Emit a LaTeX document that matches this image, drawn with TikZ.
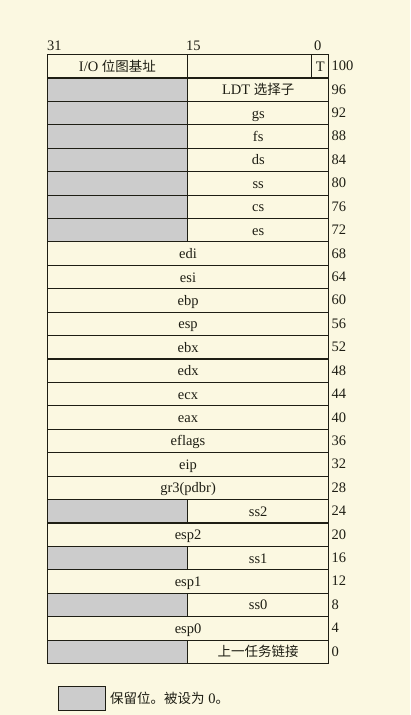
\documentclass[tikz,border=0pt]{standalone}
\usepackage{fontspec}
\setmainfont{Liberation Serif}
\newfontfamily\cjk{Noto Sans CJK SC}
\definecolor{paper}{HTML}{FBF8E1}
\definecolor{grayfill}{HTML}{CCCCCC}
\definecolor{ink}{HTML}{1E1E14}

\begin{document}
\begin{tikzpicture}[x=1pt, y=-1pt, font=\fontsize{14.5}{17}\selectfont, text=ink,
    cell/.style={rectangle, draw=ink, line width=1.1pt, inner sep=0, minimum height=23.42pt,
        text height=10pt, text depth=0pt, anchor=north west},
    full/.style={cell, minimum width=281.6pt},
    lhalf/.style={cell, minimum width=140.3pt},
    rhalf/.style={cell, minimum width=141.3pt},
    reserved/.style={lhalf, fill=grayfill},
    offset/.style={anchor=west, inner sep=0, text height=10pt, text depth=0pt},
    bitno/.style={anchor=base west, inner sep=0}]
                \useasboundingbox (0,0) rectangle (410,715);
                \fill[paper] (0,0) rectangle (410,715);

                \node[bitno] (bit31) at (47,50) {31};
                \node[bitno] (bit15) at (186,50) {15};
                \node[bitno] (bit0) at (314,50) {0};

                \node[lhalf] (iomap) at (46.7,54) {I/O {\cjk\fontsize{13.5}{16}\selectfont 位图基址}};
                \node[cell, minimum width=124pt] (spare) at (187,54) {};
                \node[cell, minimum width=17.3pt] (tflag) at (311,54) {T};

                \foreach \i/\name/\txt in {1/ldt/{LDT {\cjk\fontsize{13.5}{16}\selectfont 选择子}}, 2/gs/gs, 3/fs/fs, 4/ds/ds, 5/ss/ss, 6/cs/cs, 7/es/es,
                        19/ss2/ss2, 21/ss1/ss1, 23/ss0/ss0, 25/link/{\cjk\fontsize{13.5}{16}\selectfont 上一任务链接}}{
                    \node[reserved] (res\name) at (46.7,{54+23.42*\i}) {};
                    \node[rhalf] (\name) at (187,{54+23.42*\i}) {\txt};
                }

                \foreach \i/\name/\txt in {8/edi/edi, 9/esi/esi, 10/ebp/ebp, 11/esp/esp, 12/ebx/ebx, 13/edx/edx,
                        14/ecx/ecx, 15/eax/eax, 16/eflags/eflags, 17/eip/eip, 18/cr3/gr3(pdbr),
                        20/esp2/esp2, 22/esp1/esp1, 24/esp0/esp0}{
                    \node[full] (\name) at (46.7,{54+23.42*\i}) {\txt};
                }

                \foreach \i in {0,...,25}{
                    \pgfmathtruncatemacro\off{100-4*\i}
                    \node[offset] (off\off) at (331.5,{54+23.42*(\i+0.5)}) {\off};
                }

                \node[cell, fill=grayfill, minimum width=46.7pt, minimum height=24pt] (legendbox) at (58,686) {};
                \node[anchor=west, inner sep=0] (legendtxt) at (110,698) {{\cjk\fontsize{13.5}{16}\selectfont 保留位。被设为} 0{\cjk\fontsize{13.5}{16}\selectfont 。}};
\end{tikzpicture}
\end{document}
